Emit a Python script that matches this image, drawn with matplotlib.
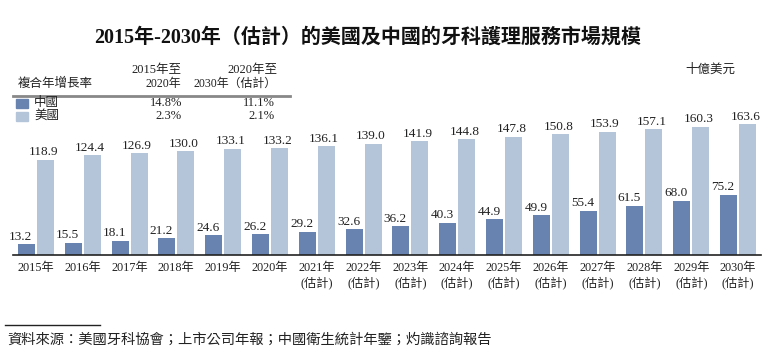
import matplotlib
matplotlib.use("Agg")
from matplotlib import pyplot as plt
from matplotlib.lines import Line2D
from matplotlib.patches import Rectangle
import numpy as np

plt.rcParams['font.family'] = ['Liberation Serif', 'Noto Sans CJK TC']

# Data
years = [str(y) for y in range(2015, 2031)]
estimated_from = 2021
china = [13.2, 15.5, 18.1, 21.2, 24.6, 26.2, 29.2, 32.6,
         36.2, 40.3, 44.9, 49.9, 55.4, 61.5, 68.0, 75.2]
usa = [118.9, 124.4, 126.9, 130.0, 133.1, 133.2, 136.1, 139.0,
       141.9, 144.8, 147.8, 150.8, 153.9, 157.1, 160.3, 163.6]
series_names = ['中國', '美國']
cagr_headers = [('2015年至', '2020年'), ('2020年至', '2030年（估計）')]
cagr_china = ['14.8%', '11.1%']
cagr_usa = ['2.3%', '2.1%']

title = '2015年-2030年（估計）的美國及中國的牙科護理服務市場規模'
unit = '十億美元'
source = '資料來源：美國牙科協會；上市公司年報；中國衛生統計年鑒；灼識諮詢報告'

c_china = '#6883b0'
c_usa = '#b4c5da'
txt = '#222222'

W, H = 770, 359
fig = plt.figure(figsize=(W / 100, H / 100), dpi=100)

def px(x, y):
    # pixel coords (top-left origin) -> figure fraction
    return x / W, 1 - y / H

# main axes
ax_l, ax_r, ax_base, ax_top = 13, 761, 255, 120
ax = fig.add_axes([ax_l / W, 1 - ax_base / H, (ax_r - ax_l) / W, (ax_base - ax_top) / H])
x = np.arange(len(years))
bw = 0.363
off = 0.203
ax.bar(x - off, china, width=bw, color=c_china)
ax.bar(x + off, usa, width=bw, color=c_usa)
ax.set_xlim(-0.49, 15.49)
ax.set_ylim(0, 135 / 0.8)
for s in ['top', 'right', 'left']:
    ax.spines[s].set_visible(False)
ax.spines['bottom'].set_color('#222222')
ax.spines['bottom'].set_linewidth(1.2)
ax.set_yticks([])

labels = []
for y in years:
    if int(y) >= estimated_from:
        labels.append(y + '年\n(估計)')
    else:
        labels.append(y + '年')
ax.set_xticks(x)
ax.set_xticklabels(labels, fontsize=8.8, color=txt, linespacing=1.2)
ax.tick_params(axis='x', length=0, pad=5)

for i in range(len(years)):
    ax.annotate('%.1f' % china[i], (x[i] - off, china[i]), xytext=(-4, 1),
                textcoords='offset points', ha='center', va='bottom',
                fontsize=9.5, color=txt)
    ax.annotate('%.1f' % usa[i], (x[i] + off, usa[i]), xytext=(-1.5, 1),
                textcoords='offset points', ha='center', va='bottom',
                fontsize=9.5, color=txt)

# title
fig.text(*px(368, 38), title, ha='center', va='center', fontsize=14.4,
         fontweight='bold', color='#111111')

# unit
fig.text(*px(735, 70), unit, ha='right', va='center', fontsize=9, color=txt)

# CAGR table
fs = 9
fig.text(*px(18, 84), '複合年增長率', ha='left', va='center', fontsize=fs, color=txt)
col_x = [181, 277]
for cx, (h1, h2) in zip(col_x, cagr_headers):
    fig.text(*px(cx, 70), h1, ha='right', va='center', fontsize=fs, color=txt)
    fig.text(*px(cx, 84), h2, ha='right', va='center', fontsize=8.6, color=txt)
fig.add_artist(Line2D([13 / W, 290 / W], [1 - 96 / H, 1 - 96 / H],
                      color='#888888', linewidth=2))
rows = [(series_names[0], c_china, cagr_china, 103),
        (series_names[1], c_usa, cagr_usa, 116)]
for name, col, vals, yy in rows:
    fx, fy = px(16, yy + 5)
    fig.add_artist(Rectangle((fx, fy), 12 / W, 9 / H, color=col,
                             transform=fig.transFigure))
    fig.text(*px(34, yy), name, ha='left', va='center', fontsize=fs, color=txt)
    for cx, v in zip([182, 275], vals):
        fig.text(*px(cx, yy), v, ha='right', va='center', fontsize=fs, color=txt)

# source note
fig.add_artist(Line2D([5 / W, 100 / W], [1 - 325 / H, 1 - 325 / H],
                      color='#222222', linewidth=1))
fig.text(*px(7, 340), source, ha='left', va='center', fontsize=10.3, color=txt)

fig.savefig('out.png', dpi=100)
